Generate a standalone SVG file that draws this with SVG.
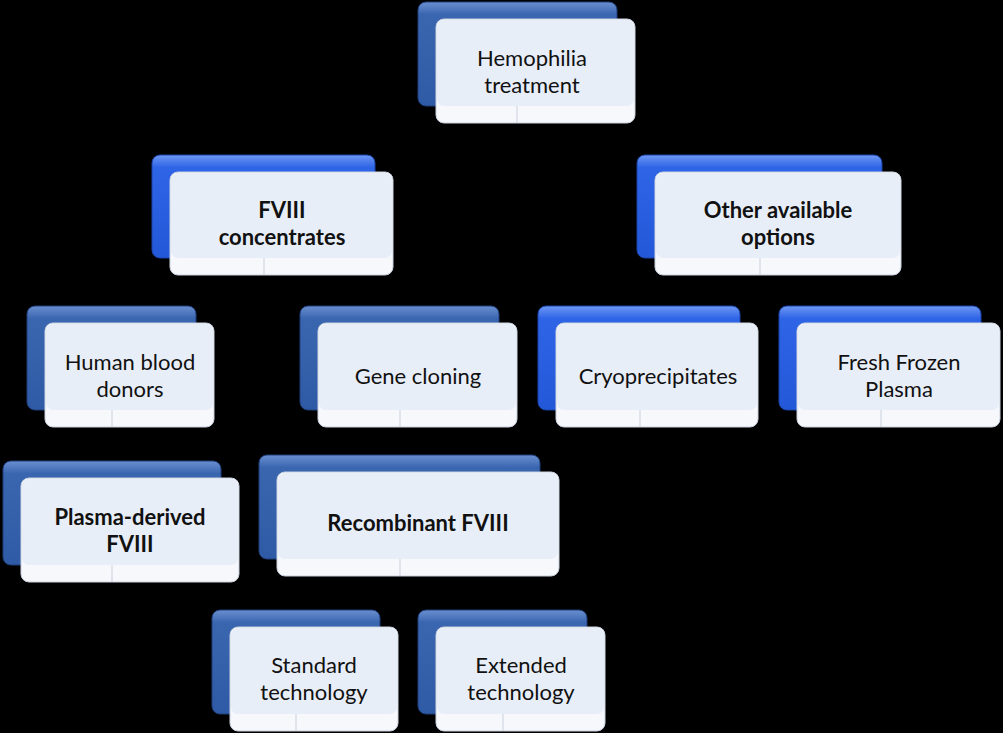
<svg xmlns="http://www.w3.org/2000/svg" width="1003" height="733" viewBox="0 0 1003 733">
<defs>
<linearGradient id="gd" x1="0" y1="0" x2="0" y2="1"><stop offset="0" stop-color="#6a8fd0"/><stop offset="0.12" stop-color="#3a66b0"/><stop offset="1" stop-color="#2f5aa5"/></linearGradient>
<linearGradient id="gb" x1="0" y1="0" x2="0" y2="1"><stop offset="0" stop-color="#6f98f5"/><stop offset="0.12" stop-color="#2e64e6"/><stop offset="1" stop-color="#2358d8"/></linearGradient>
<style>
.bd{fill:url(#gd);stroke:#1f3f7a;stroke-width:1}
.bb{fill:url(#gb);stroke:#1a45a8;stroke-width:1}
.fr{fill:#f6f8fc;stroke:#c8d0de;stroke-width:1}
.fi{fill:#e8eef8}
.tk{stroke:#c8d0de;stroke-width:1}
text{font-family:"Lato","Open Sans",sans-serif;font-size:22px;fill:#111;text-anchor:middle}
.b{font-weight:bold}
</style>
</defs>
<rect width="1003" height="733" fill="#000"/>
<g id="connectors"/>
<g id="n1"><rect class="bd" x="418" y="2" width="199" height="104" rx="8"/><rect class="fr" x="436" y="19" width="199" height="104" rx="8"/><rect class="fi" x="437" y="20" width="197" height="86" rx="7"/><line class="tk" x1="517" y1="106" x2="517" y2="123"/><text x="532" y="66">Hemophilia</text><text x="532" y="93">treatment</text></g>
<g id="n2"><rect class="bb" x="152" y="155" width="223" height="103" rx="8"/><rect class="fr" x="170" y="172" width="223" height="103" rx="8"/><rect class="fi" x="171" y="173" width="221" height="85" rx="7"/><line class="tk" x1="264" y1="258" x2="264" y2="275"/><text class="b" x="282" y="218">FVIII</text><text class="b" x="282" y="245">concentrates</text></g>
<g id="n3"><rect class="bb" x="637" y="155" width="245" height="103" rx="8"/><rect class="fr" x="655" y="172" width="246" height="103" rx="8"/><rect class="fi" x="656" y="173" width="244" height="85" rx="7"/><line class="tk" x1="760" y1="258" x2="760" y2="275"/><text class="b" x="778" y="218">Other available</text><text class="b" x="778" y="245">options</text></g>
<g id="n4"><rect class="bd" x="27" y="306" width="169" height="104" rx="8"/><rect class="fr" x="45" y="323" width="169" height="104" rx="8"/><rect class="fi" x="46" y="324" width="167" height="86" rx="7"/><line class="tk" x1="112" y1="410" x2="112" y2="427"/><text x="130" y="370">Human blood</text><text x="130" y="397">donors</text></g>
<g id="n5"><rect class="bd" x="300" y="306" width="199" height="104" rx="8"/><rect class="fr" x="318" y="323" width="199" height="104" rx="8"/><rect class="fi" x="319" y="324" width="197" height="86" rx="7"/><line class="tk" x1="400" y1="410" x2="400" y2="427"/><text x="418" y="384">Gene cloning</text></g>
<g id="n6"><rect class="bb" x="538" y="306" width="202" height="104" rx="8"/><rect class="fr" x="556" y="323" width="202" height="104" rx="8"/><rect class="fi" x="557" y="324" width="200" height="86" rx="7"/><line class="tk" x1="640" y1="410" x2="640" y2="427"/><text x="658" y="384">Cryoprecipitates</text></g>
<g id="n7"><rect class="bb" x="779" y="306" width="202" height="104" rx="8"/><rect class="fr" x="797" y="323" width="203" height="104" rx="8"/><rect class="fi" x="798" y="324" width="201" height="86" rx="7"/><line class="tk" x1="881" y1="410" x2="881" y2="427"/><text x="899" y="370">Fresh Frozen</text><text x="899" y="397">Plasma</text></g>
<g id="n8"><rect class="bd" x="3" y="461" width="218" height="104" rx="8"/><rect class="fr" x="21" y="478" width="218" height="104" rx="8"/><rect class="fi" x="22" y="479" width="216" height="86" rx="7"/><line class="tk" x1="112" y1="565" x2="112" y2="582"/><text class="b" x="130" y="525">Plasma-derived</text><text class="b" x="130" y="552">FVIII</text></g>
<g id="n9"><rect class="bd" x="259" y="455" width="281" height="104" rx="8"/><rect class="fr" x="277" y="472" width="282" height="104" rx="8"/><rect class="fi" x="278" y="473" width="280" height="86" rx="7"/><line class="tk" x1="400" y1="559" x2="400" y2="576"/><text class="b" x="418" y="531">Recombinant FVIII</text></g>
<g id="n10"><rect class="bd" x="212" y="610" width="168" height="104" rx="8"/><rect class="fr" x="230" y="627" width="168" height="104" rx="8"/><rect class="fi" x="231" y="628" width="166" height="86" rx="7"/><line class="tk" x1="296" y1="714" x2="296" y2="731"/><text x="314" y="673">Standard</text><text x="314" y="700">technology</text></g>
<g id="n11"><rect class="bd" x="418" y="610" width="169" height="104" rx="8"/><rect class="fr" x="436" y="627" width="169" height="104" rx="8"/><rect class="fi" x="437" y="628" width="167" height="86" rx="7"/><line class="tk" x1="503" y1="714" x2="503" y2="731"/><text x="521" y="673">Extended</text><text x="521" y="700">technology</text></g>
</svg>
